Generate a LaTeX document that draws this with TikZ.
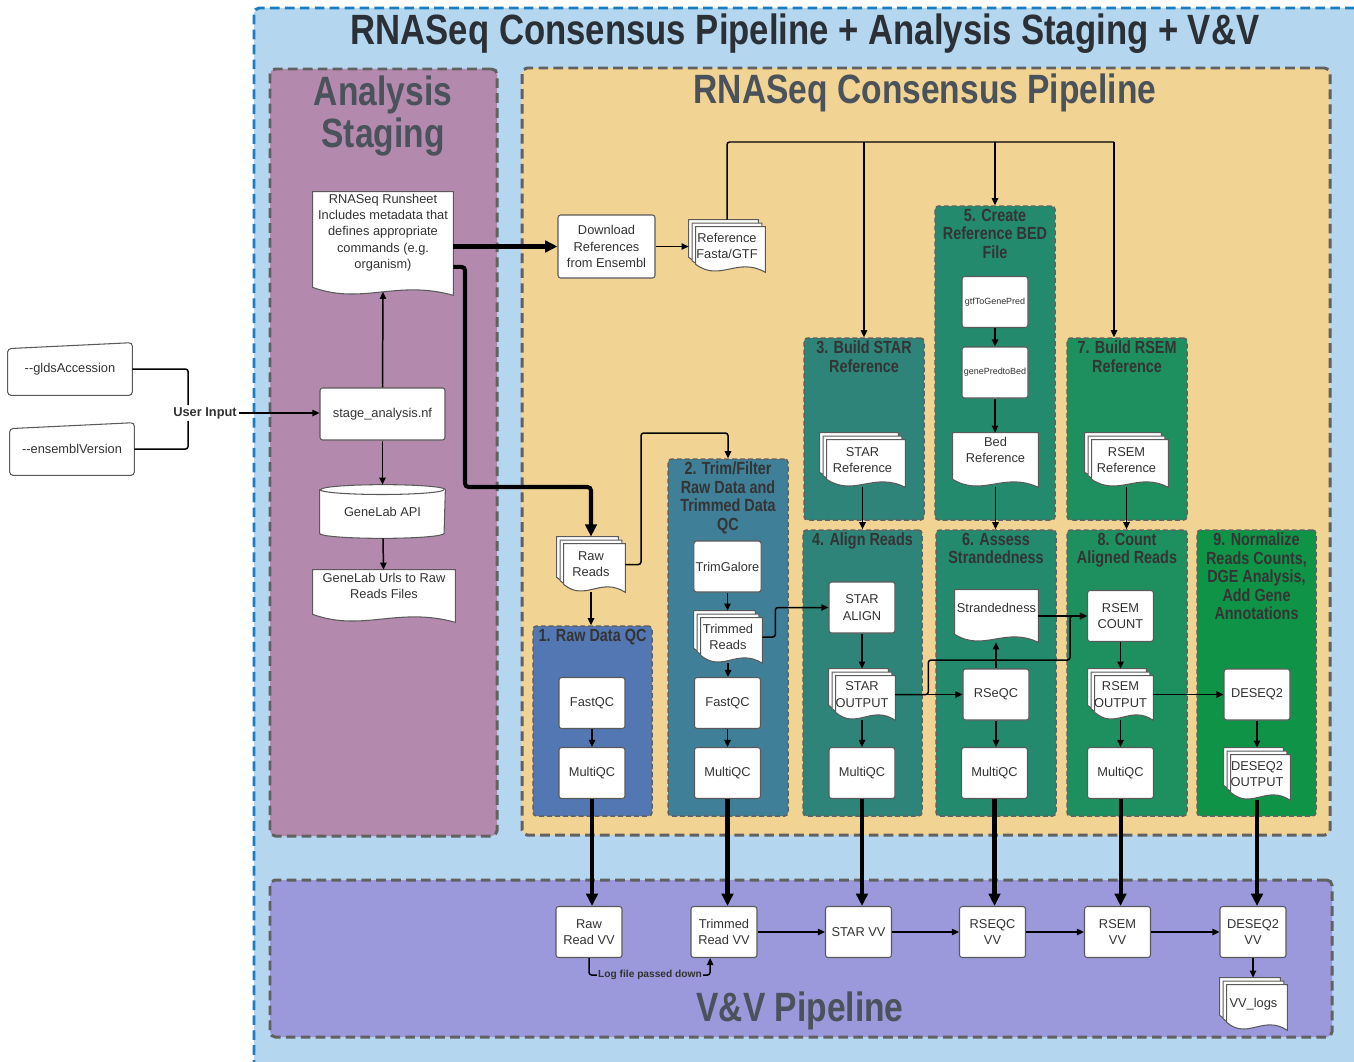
\documentclass[tikz,border=0pt]{standalone}
\usepackage{fontspec}
\setmainfont{Liberation Sans}
\newfontfamily\narrowfont[FakeStretch=0.82]{Liberation Sans}
\usepackage{tikz}
\usetikzlibrary{arrows.meta,calc,fit}

\definecolor{outerfill}{HTML}{B4D6EF}
\definecolor{outerline}{HTML}{1B7DC0}
\definecolor{stagefill}{HTML}{B38AAD}
\definecolor{pipefill}{HTML}{F1D393}
\definecolor{vvfill}{HTML}{9B98DB}
\definecolor{rawfill}{HTML}{5277B2}
\definecolor{trimfill}{HTML}{3F7F97}
\definecolor{starfill}{HTML}{2E8479}
\definecolor{bedfill}{HTML}{238A6D}
\definecolor{rsemfill}{HTML}{1E8F5F}
\definecolor{dgefill}{HTML}{0F9447}
\definecolor{dashgray}{HTML}{616161}
\definecolor{areatxt}{HTML}{4A525B}
\definecolor{toptxt}{HTML}{2B3037}
\definecolor{grptxt}{HTML}{343434}
\definecolor{txt}{HTML}{333333}
\definecolor{boxline}{HTML}{5A5A5A}

\newdimen\pxunit \pxunit=0.02cm
\pgfdeclarelayer{areas}
\pgfdeclarelayer{sheets}
\pgfsetlayers{areas,sheets,main}

\newcommand{\bodyfont}{\fontsize{7.3}{9.2}\selectfont}
\newcommand{\tinyfont}{\fontsize{5.1}{6}\selectfont}
\newcommand{\logfont}{\bfseries\fontsize{5.8}{7}\selectfont}
\newcommand{\grpfont}{\narrowfont\bfseries\fontsize{10}{10.5}\selectfont}
\newcommand{\areafont}{\narrowfont\bfseries\fontsize{23.3}{23.8}\selectfont}
\newcommand{\topfont}{\narrowfont\bfseries\fontsize{24.1}{26}\selectfont}

% document outline, top left #1, bottom right #2
\newcommand{\docpath}[2]{(#1) -- (#1 -| #2) -- (#2)
  .. controls ($(#1 |- #2)!0.6!(#2)+(0,-16)$) and ($(#1 |- #2)!0.35!(#2)+(0,10)$)
  .. ($(#1 |- #2)+(0,-8)$) -- cycle}

\begin{document}
\begin{tikzpicture}[x=0.02cm, y=-0.02cm,
  every node/.style={font=\bodyfont, text=txt},
  proc/.style={draw=boxline, fill=white, line width=0.6pt, rounded corners=1.5pt,
    align=center, inner sep=1pt, minimum width=66\pxunit, minimum height=51\pxunit},
  doc/.style={align=center, inner sep=0.5pt, text depth=12pt},
  mdoc/.style={align=center, inner sep=0.5pt},
  sheet/.style={draw=boxline, fill=white, line width=0.6pt},
  area/.style={draw=dashgray, line width=1.7pt, dash pattern=on 5.5pt off 3pt,
    rounded corners=3pt, inner sep=0pt},
  grp/.style={draw=dashgray, line width=0.85pt, dash pattern=on 2.8pt off 1.7pt,
    rounded corners=2pt, inner sep=0pt},
  grptitle/.style={font=\grpfont, text=grptxt, align=center, anchor=north, inner sep=2pt},
  areatitle/.style={font=\areafont, text=areatxt, align=center},
  link/.style={line width=0.85pt, rounded corners=1.5pt},
  flow/.style={link, -{Triangle[length=4pt,width=3.6pt]}},
  heavy/.style={line width=2.3pt, rounded corners=2pt, -{Triangle[length=7pt,width=6.5pt]}}
]
\useasboundingbox (0,0) rectangle (1354,1061);

% big areas and step groups
\begin{pgfonlayer}{areas}
  \node[area, draw=outerline, fill=outerfill, fit={(254,8) (1390,1100)}] (outer) {};
  \node[area, fill=stagefill, fit={(270,69) (497,836)}] (staging) {};
  \node[area, fill=pipefill, fit={(522,68) (1330,835)}] (pipeline) {};
  \node[area, fill=vvfill, fit={(270,880) (1332,1037)}] (vvarea) {};
  \node[grp, fill=rawfill, fit={(533,626) (652,816)}] (g1) {};
  \node[grp, fill=trimfill, fit={(668,459) (788,816)}] (g2) {};
  \node[grp, fill=starfill, fit={(804,338) (924,520)}] (g3) {};
  \node[grp, fill=starfill, fit={(803,530) (922,816)}] (g4) {};
  \node[grp, fill=bedfill, fit={(935,206) (1055,520)}] (g5) {};
  \node[grp, fill=bedfill, fit={(936,530) (1056,816)}] (g6) {};
  \node[grp, fill=rsemfill, fit={(1067,338) (1187,520)}] (g7) {};
  \node[grp, fill=rsemfill, fit={(1067,530) (1187,816)}] (g8) {};
  \node[grp, fill=dgefill, fit={(1197,530) (1316,816)}] (g9) {};
\end{pgfonlayer}

% titles
\node[font=\topfont, text=toptxt] (maintitle) at (805,34) {RNASeq Consensus Pipeline + Analysis Staging + V\&V};
\node[areatitle] (stagingtitle) at (383,116) {Analysis\\Staging};
\node[areatitle] (pipetitle) at (925,93) {RNASeq Consensus Pipeline};
\node[areatitle] (vvtitle) at (800,1011) {V\&V Pipeline};
\node[grptitle] (g1title) at (g1.north) {1. Raw Data QC};
\node[grptitle] (g2title) at (g2.north) {2. Trim/Filter\\Raw Data and\\Trimmed Data\\QC};
\node[grptitle] (g3title) at (g3.north) {3. Build STAR\\Reference};
\node[grptitle] (g4title) at (g4.north) {4. Align Reads};
\node[grptitle] (g5title) at (g5.north) {5. Create\\Reference BED\\File};
\node[grptitle] (g6title) at (g6.north) {6. Assess\\Strandedness};
\node[grptitle] (g7title) at (g7.north) {7. Build RSEM\\Reference};
\node[grptitle] (g8title) at (g8.north) {8. Count\\Aligned Reads};
\node[grptitle] (g9title) at (g9.north) {9. Normalize\\Reads Counts,\\DGE Analysis,\\Add Gene\\Annotations};

% user input
\node[minimum width=124\pxunit, minimum height=52\pxunit] (glds) at (70,369) {-{}-gldsAccession};
\node[minimum width=124\pxunit, minimum height=52\pxunit] (ensembl) at (72,449) {-{}-ensemblVersion};
\node[font=\bfseries\bodyfont, inner sep=1pt] (userin) at (205,413) {User Input};

% analysis staging
\node[doc, minimum width=140\pxunit, minimum height=103\pxunit, text depth=14pt] (runsheet) at (383,243.5)
  {RNASeq Runsheet\\Includes metadata that\\defines appropriate\\commands (e.g.\\organism)};
\node[proc, minimum width=125\pxunit, minimum height=52\pxunit] (stage) at (382.5,414) {stage\_analysis.nf};
\node[minimum width=125\pxunit, minimum height=53\pxunit, inner sep=0.5pt] (api) at (382.5,511.5) {GeneLab API};
\node[doc, minimum width=142\pxunit, minimum height=52\pxunit] (urls) at (384,596) {GeneLab Urls to Raw\\Reads Files};

% references
\node[proc, minimum width=97\pxunit, minimum height=63\pxunit] (download) at (606.5,246.5) {Download\\References\\from Ensembl};
\node[mdoc, minimum width=76\pxunit, minimum height=52\pxunit] (fasta) at (727,246) {Reference\\Fasta/GTF};
\coordinate (bus) at (1114,142);

% raw data and trimming
\node[mdoc, minimum width=68\pxunit, minimum height=55\pxunit] (rawreads) at (591,564.5) {Raw\\Reads};
\node[proc] (fastqc1) at (592,703) {FastQC};
\node[proc] (multiqc1) at (592,773) {MultiQC};
\node[proc] (trimgalore) at (727.5,566.5) {TrimGalore};
\node[mdoc, minimum width=68\pxunit, minimum height=52\pxunit] (trimmed) at (728,637) {Trimmed\\Reads};
\node[proc] (fastqc2) at (727.5,703) {FastQC};
\node[proc] (multiqc2) at (727.5,773) {MultiQC};

% STAR
\node[mdoc, minimum width=85\pxunit, minimum height=54\pxunit] (starref) at (862.5,460) {STAR\\Reference};
\node[proc] (staralign) at (862,607.5) {STAR\\ALIGN};
\node[mdoc, minimum width=66\pxunit, minimum height=51\pxunit] (starout) at (862,694.5) {STAR\\OUTPUT};
\node[proc] (multiqc4) at (862,773) {MultiQC};

% BED and strandedness
\node[proc, font=\tinyfont] (gtf) at (995,302) {gtfToGenePred};
\node[proc, font=\tinyfont] (genepred) at (995,372.5) {genePredtoBed};
\node[doc, minimum width=85\pxunit, minimum height=54\pxunit] (bedref) at (995.5,460) {Bed\\Reference};
\node[doc, minimum width=83\pxunit, minimum height=52\pxunit, text depth=9pt] (strandedness) at (996.5,616) {Strandedness};
\node[proc] (rseqc) at (996,694.5) {RSeQC};
\node[proc] (multiqc6) at (994.5,773) {MultiQC};

% RSEM
\node[mdoc, minimum width=83\pxunit, minimum height=54\pxunit] (rsemref) at (1126.5,460) {RSEM\\Reference};
\node[proc] (rsemcount) at (1120.5,616) {RSEM\\COUNT};
\node[mdoc, minimum width=65\pxunit, minimum height=51\pxunit] (rsemout) at (1120.5,694.5) {RSEM\\OUTPUT};
\node[proc] (multiqc8) at (1120.5,773) {MultiQC};

% DESeq2
\node[proc] (deseq) at (1257,694.5) {DESEQ2};
\node[mdoc, minimum width=66\pxunit, minimum height=52\pxunit] (deseqout) at (1257,774) {DESEQ2\\OUTPUT};

% V&V
\node[proc] (rawvv) at (589,932) {Raw\\Read VV};
\node[proc] (trimvv) at (724,932) {Trimmed\\Read VV};
\node[proc] (starvv) at (858.5,932) {STAR VV};
\node[proc] (rseqcvv) at (992.5,932) {RSEQC\\VV};
\node[proc] (rsemvv) at (1117.5,932) {RSEM\\VV};
\node[proc] (deseqvv) at (1253,932) {DESEQ2\\VV};
\node[mdoc, minimum width=67\pxunit, minimum height=52\pxunit] (vvlogs) at (1253.5,1004) {VV\_logs};
\node[font=\logfont, inner sep=0.5pt] (logtext) at (650,975) {Log file passed down};

% sheet outlines under the texts
\begin{pgfonlayer}{sheets}
  \foreach \n in {runsheet,urls,bedref,strandedness}
    \draw[sheet] \docpath{\n.north west}{\n.south east};
  \foreach \n in {fasta,rawreads,trimmed,starref,starout,rsemref,rsemout,deseqout,vvlogs} {
    \path (\n.north west) coordinate (p0) ++(3.5,3.5) coordinate (p1) ++(3.5,3.5) coordinate (p2)
          (\n.south east) coordinate (q2) ++(-3.5,-3.5) coordinate (q1) ++(-3.5,-3.5) coordinate (q0);
    \draw[sheet] \docpath{p0}{q0};
    \draw[sheet] \docpath{p1}{q1};
    \draw[sheet] \docpath{p2}{q2};
  }
  \foreach \n in {glds,ensembl}
    \draw[sheet, rounded corners=2pt] ([yshift=-3.4pt]\n.north west) -- (\n.north east)
      -- (\n.south east) -- (\n.south west) -- cycle;
  \draw[sheet] ([yshift=-2.8pt]api.north west) -- ([yshift=2.8pt]api.south west)
    arc[start angle=180, end angle=360, x radius=35.4pt, y radius=2.8pt]
    -- ([yshift=-2.8pt]api.north east)
    arc[start angle=0, end angle=180, x radius=35.4pt, y radius=2.8pt] -- cycle;
  \draw[sheet, fill=none] ([yshift=-2.8pt]api.north west)
    arc[start angle=180, end angle=360, x radius=35.4pt, y radius=2.8pt];
\end{pgfonlayer}

% staging connectors
\draw[link] (glds.east) -| ([xshift=-9.6pt]userin.north);
\draw[link] (ensembl.east) -| ([xshift=-9.6pt]userin.south);
\draw[flow] (userin.east) -- (userin.east -| stage.west);
\draw[flow] (stage.north) -- ([yshift=2pt]runsheet.south);
\draw[flow] (stage) -- (api);
\draw[flow] (api) -- (urls);
\draw[heavy] (runsheet.east |- download.west) -- (download.west);
\draw[heavy] ([yshift=-13.3pt]runsheet.east) -| (465,487) -| (rawreads.north);

% references
\draw[flow] (download.east) -- (download.east -| fasta.west);
\draw[link] (fasta.north) |- (bus);
\draw[flow] (bus) -- (bus |- g7.north);
\draw[flow] (g3.north |- bus) -- (g3.north);
\draw[flow] (g5.north |- bus) -- (g5.north);
\draw[flow] (starref.south) -- (starref.south |- g4.north);
\draw[flow] (gtf) -- (genepred);
\draw[flow] (genepred.south) -- (genepred.south |- bedref.north);
\draw[flow] (bedref.south) -- (bedref.south |- g6.north);
\draw[flow] (rsemref.south) -- (rsemref.south |- g8.north);

% reads
\draw[flow] (rawreads.south) -- (rawreads.south |- g1.north);
\draw[flow] (rawreads.east) -| (641,433) -| (g2.north);
\draw[flow] (fastqc1) -- (multiqc1);
\draw[flow] (trimgalore.south) -- (trimgalore.south |- trimmed.north);
\draw[flow] (trimmed.south) -- (trimmed.south |- fastqc2.north);
\draw[flow] (fastqc2) -- (multiqc2);
\draw[flow] (trimmed.east) -- ++(13,0) |- (staralign.west);

% alignment and counting
\draw[flow] (staralign) -- (starout);
\draw[flow] (starout) -- (multiqc4);
\draw[flow] (starout.east) -- (rseqc.west);
\draw[flow] (starout.east) -- ++(33,0) |- (1070,660) |- (rsemcount.west);
\draw[flow] (rseqc.north) -- (rseqc.north |- strandedness.south);
\draw[flow] (strandedness.east) -- (rsemcount.west);
\draw[flow] (rseqc.south) -- (rseqc.south |- multiqc6.north);
\draw[flow] (rsemcount) -- (rsemout);
\draw[flow] (rsemout) -- (multiqc8);
\draw[flow] (rsemout.east) -- (deseq.west);
\draw[flow] (deseq) -- (deseqout);

% into V&V
\draw[heavy] (multiqc1.south) -- (multiqc1.south |- rawvv.north);
\draw[heavy] (multiqc2.south) -- (multiqc2.south |- trimvv.north);
\draw[heavy] (multiqc4.south) -- (multiqc4.south |- starvv.north);
\draw[heavy] (multiqc6.south) -- (multiqc6.south |- rseqcvv.north);
\draw[heavy] (multiqc8.south) -- (multiqc8.south |- rsemvv.north);
\draw[heavy] (deseqout.south) -- (deseqout.south |- deseqvv.north);

% V&V chain
\foreach \a/\b in {trimvv/starvv, starvv/rseqcvv, rseqcvv/rsemvv, rsemvv/deseqvv}
  \draw[flow] (\a) -- (\b);
\draw[link] (rawvv.south) |- (logtext.west);
\draw[flow] (logtext.east) -| ([xshift=-7.9pt]trimvv.south);
\draw[flow] (deseqvv.south) -- (deseqvv.south |- vvlogs.north);

\end{tikzpicture}
\end{document}
